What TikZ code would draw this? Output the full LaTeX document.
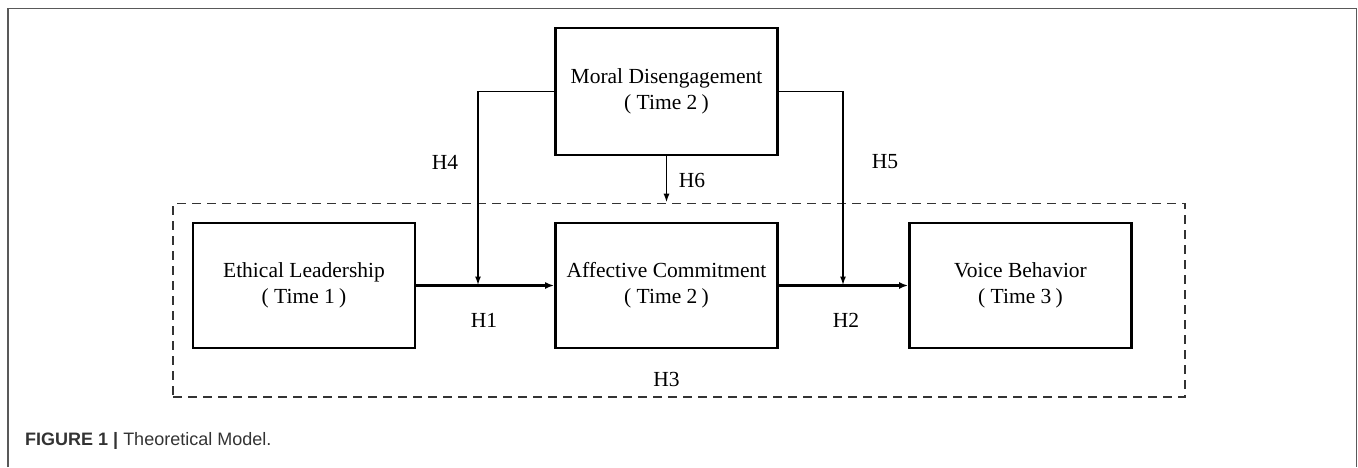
\documentclass[tikz,border=0pt]{standalone}
\usepackage{fontspec}
\setmainfont{Liberation Serif}
\newfontfamily\capfont{Liberation Sans}
\usetikzlibrary{arrows.meta}
\tikzset{
  boxnode/.style={draw=black, line width=2.8pt, minimum width=222pt, minimum height=125pt, align=center, inner sep=0pt, font=\fontsize{21.5}{26}\selectfont},
  conn/.style={draw=black, line width=2.2pt, -{Latex[length=9pt,width=7pt]}},
  feed/.style={draw=black, line width=1.9pt, -{Latex[length=9pt,width=6pt]}},
  hlab/.style={font=\fontsize{21.5}{26}\selectfont, inner sep=0pt},
  grpbox/.style={draw=black!80, line width=1.6pt, dash pattern=on 9pt off 6pt},
  framel/.style={draw=black!65, line width=1.6pt}
}
\newcommand{\tm}[1]{(\hspace{0.25em}Time #1\hspace{0.2em})}
\begin{document}
\begin{tikzpicture}[x=1pt,y=-1pt]
\useasboundingbox (0,0) rectangle (1358,467);
% frame
\draw[framel] (8,467) -- (8,8.5) -- (1356.5,8.5) -- (1356.5,467);
% group dashed box
\node[grpbox, minimum width=1012pt, minimum height=193.5pt, inner sep=0pt] (grp) at (679,300.25) {};
% boxes
\node[boxnode] (eth) at (304,285.5) {Ethical Leadership\\\tm{1}};
\node[boxnode] (aff) at (666.5,285.5) {Affective Commitment\\\tm{2}};
\node[boxnode] (voi) at (1020.5,285.5) {Voice Behavior\\\tm{3}};
\node[boxnode, minimum height=127pt] (mor) at (666.5,91.5) {Moral Disengagement\\\tm{2}};
% coordinates
\coordinate (m1) at (478,285.5);
\coordinate (m2) at (843,285.5);
\coordinate (m6) at (mor.south |- grp.north);
% connectors
\draw[conn] (eth.east) -- (aff.west);
\draw[conn] (aff.east) -- (voi.west);
\draw[feed] (mor.west) -| (m1);
\draw[feed] (mor.east) -| (m2);
\draw[feed] (mor.south) -- (m6);
% labels
\node[hlab] (h1) at (484,320) {H1};
\node[hlab] (h2) at (846,320) {H2};
\node[hlab] (h3) at (666.5,379) {H3};
\node[hlab] (h4) at (445,162) {H4};
\node[hlab] (h5) at (885,162) {H5};
\node[hlab] (h6) at (692,180) {H6};
% caption
\node[anchor=base west, inner sep=0pt, text=black!80, font=\capfont\fontsize{18}{20}\selectfont] (cap) at (25,445) {\textbf{FIGURE 1} \textbf{|} Theoretical Model.};
\end{tikzpicture}
\end{document}
